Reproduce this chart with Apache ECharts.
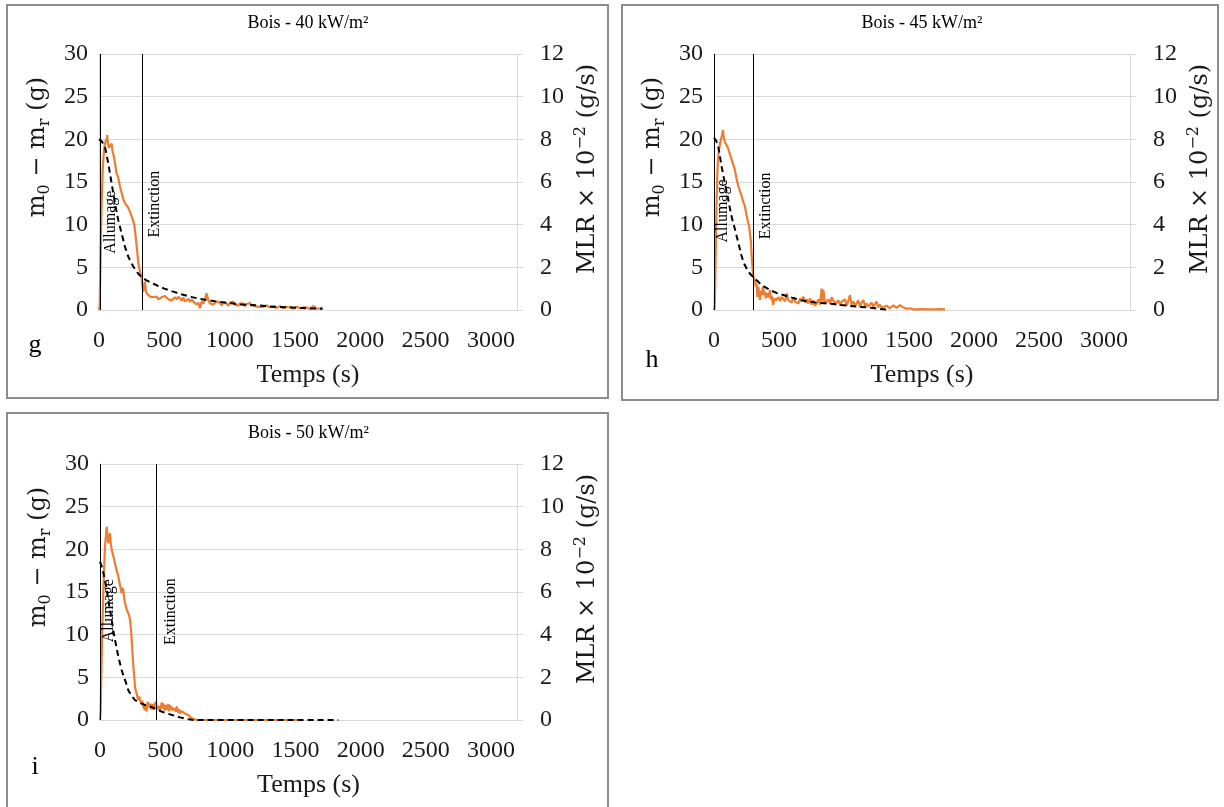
<!DOCTYPE html>
<html>
<head>
<meta charset="utf-8">
<script src="https://cdn.jsdelivr.net/npm/echarts@6/dist/echarts.min.js"></script>
<style>
  html, body { margin: 0; padding: 0; background: #fff; }
  #chart { width: 1224px; height: 807px; }
</style>
</head>
<body>
<div id="chart"></div>
<script>
// --- data: [temps (s), valeur] ---
// masse (axe gauche, g) -- courbe pointillée
const massG = [[0,20],[20,19.8],[46,19.1],[71,17.2],[97,14.8],[122,12.5],[148,10.5],[173,9.0],[199,7.4],[224,6.25],[245,5.6],[262,5.1],[288,4.5],[310,4.1],[330,3.8],[360,3.5],[400,3.2],[441,2.9],[500,2.5],[569,2.15],[630,1.85],[696,1.56],[760,1.35],[824,1.17],[890,1.02],[951,0.9],[1015,0.78],[1079,0.66],[1140,0.6],[1206,0.55],[1270,0.47],[1334,0.39],[1400,0.35],[1462,0.31],[1530,0.25],[1590,0.2],[1650,0.17],[1712,0.15]];
const massH = [[0,20.2],[5,20.1],[18,19.8],[31,19.3],[44,18.2],[56,17.0],[69,16.0],[82,15.0],[95,14.0],[108,13.1],[120,12.1],[133,11.1],[146,10.3],[159,9.6],[172,8.8],[185,8.0],[198,7.2],[210,6.45],[223,5.8],[236,5.3],[255,4.75],[274,4.3],[290,4.05],[305,3.9],[330,3.45],[354,3.1],[390,2.7],[431,2.34],[480,2.0],[533,1.76],[600,1.45],[662,1.17],[725,1.0],[790,0.86],[855,0.78],[918,0.7],[980,0.58],[1046,0.47],[1110,0.38],[1174,0.31],[1240,0.2],[1303,0.08],[1330,0.05]];
const massI = [[0,18.55],[13,18.0],[25,17.3],[38,16.4],[51,15.3],[64,14.06],[77,12.9],[90,11.7],[102,10.5],[115,9.4],[128,8.4],[141,7.4],[154,6.6],[166,5.86],[179,5.25],[192,4.7],[205,4.1],[217,3.5],[243,2.8],[269,2.34],[307,2.0],[345,1.76],[390,1.55],[430,1.3],[470,1.0],[512,0.78],[560,0.55],[614,0.31],[665,0.12],[716,0],[900,0],[1200,0],[1500,0],[1829,0]];

// MLR x 10^-2 (axe droit, g/s) -- courbe orange
const mlrG = [[0,0],[5,0.2],[12,2.5],[20,5.0],[30,6.8],[40,7.6],[50,7.9],[58,8.0],[63,8.2],[68,7.8],[75,7.6],[85,7.7],[97,7.8],[102,7.5],[110,7.3],[122,6.9],[135,6.4],[148,6.2],[160,5.8],[173,5.5],[186,5.2],[199,5.0],[212,4.9],[224,4.8],[237,4.6],[250,4.4],[260,4.2],[270,4.0],[280,3.5],[288,3.0],[295,2.6],[301,2.2],[310,1.9],[319,1.7],[326,1.5],[333,1.1],[339,0.86],[346,1.1],[352,1.33],[358,0.95],[365,0.78],[378,0.7],[390,0.63],[403,0.72],[416,0.6],[429,0.68],[441,0.63],[454,0.5],[467,0.47],[480,0.6],[493,0.55],[505,0.66],[518,0.63],[531,0.5],[544,0.58],[556,0.45],[569,0.47],[582,0.6],[595,0.5],[608,0.62],[620,0.55],[633,0.45],[646,0.58],[658,0.4],[671,0.47],[684,0.52],[697,0.38],[710,0.5],[722,0.39],[735,0.45],[748,0.25],[760,0.35],[773,0.08],[786,0.4],[799,0.3],[811,0.5],[824,0.78],[837,0.45],[850,0.31],[862,0.38],[875,0.25],[888,0.35],[901,0.3],[913,0.4],[926,0.31],[939,0.22],[952,0.35],[964,0.28],[977,0.3],[990,0.2],[1003,0.35],[1016,0.3],[1028,0.39],[1041,0.25],[1054,0.32],[1066,0.2],[1079,0.31],[1092,0.22],[1105,0.3],[1117,0.18],[1130,0.28],[1143,0.2],[1156,0.32],[1168,0.22],[1181,0.31],[1194,0.18],[1207,0.25],[1220,0.15],[1232,0.23],[1258,0.15],[1283,0.22],[1308,0.12],[1334,0.16],[1360,0.1],[1385,0.18],[1410,0.08],[1436,0.14],[1462,0.12],[1487,0.06],[1513,0.15],[1538,0.08],[1564,0.12],[1590,0.12],[1615,0.05],[1640,0.19],[1666,0.06],[1692,0.08],[1712,0.12]];
const mlrH = [[0,0],[5,0.1],[10,1.5],[18,4.45],[25,6.3],[31,7.1],[38,7.5],[44,7.7],[50,7.9],[56,8.05],[62,8.2],[69,8.44],[75,8.1],[82,7.9],[95,7.75],[108,7.6],[120,7.35],[133,7.1],[146,6.85],[159,6.6],[172,6.2],[185,5.86],[198,5.6],[210,5.4],[223,5.1],[236,4.9],[249,4.5],[262,4.1],[270,3.95],[277,3.9],[284,3.2],[290,2.5],[296,2.0],[302,1.56],[308,1.56],[315,1.4],[321,1.1],[328,1.25],[334,0.6],[341,1.1],[347,0.8],[354,0.47],[360,0.9],[367,0.7],[373,1.0],[379,1.1],[386,0.7],[392,0.85],[399,0.55],[405,0.63],[412,0.8],[418,0.6],[425,0.75],[431,0.94],[437,0.5],[444,0.65],[450,0.4],[456,0.23],[463,0.55],[469,0.6],[476,0.45],[482,0.47],[495,0.6],[508,0.42],[520,0.62],[533,0.55],[546,0.4],[559,0.78],[572,0.45],[585,0.5],[598,0.35],[610,0.6],[623,0.4],[636,0.47],[649,0.3],[661,0.55],[674,0.4],[687,0.63],[700,0.35],[713,0.5],[725,0.3],[738,0.55],[751,0.25],[764,0.45],[777,0.2],[790,0.31],[803,0.5],[815,0.25],[828,1.0],[835,0.4],[841,0.94],[854,0.3],[867,0.23],[880,0.5],[892,0.3],[905,0.6],[918,0.63],[931,0.3],[944,0.23],[957,0.45],[970,0.2],[982,0.4],[995,0.31],[1008,0.5],[1021,0.2],[1034,0.45],[1046,0.7],[1059,0.25],[1072,0.4],[1085,0.2],[1097,0.31],[1110,0.45],[1123,0.15],[1136,0.35],[1149,0.47],[1162,0.2],[1174,0.3],[1187,0.15],[1200,0.23],[1213,0.35],[1226,0.15],[1238,0.28],[1251,0.39],[1264,0.12],[1277,0.25],[1290,0.1],[1303,0.16],[1328,0.2],[1354,0.08],[1380,0.22],[1405,0.1],[1431,0.23],[1456,0.12],[1482,0.06],[1508,0.08],[1534,0.03],[1559,0.03],[1600,0.04],[1650,0.03],[1700,0.03],[1740,0.04],[1777,0.03]];
const mlrI = [[0,0],[5,0.5],[13,3.0],[25,6.0],[38,8.1],[45,8.6],[51,9.06],[57,8.7],[64,8.28],[70,8.6],[77,8.75],[83,8.3],[90,7.97],[102,7.7],[115,7.34],[128,7.0],[141,6.72],[154,6.3],[166,5.94],[172,6.2],[179,6.1],[186,5.7],[192,5.47],[205,5.2],[217,5.0],[224,4.9],[230,4.7],[237,4.3],[243,3.75],[250,3.1],[256,2.5],[263,2.0],[269,1.56],[275,1.35],[281,1.25],[288,1.05],[294,0.94],[301,1.1],[307,0.94],[314,0.8],[320,0.78],[326,0.9],[332,0.63],[339,0.55],[345,0.47],[352,0.7],[358,0.39],[365,0.85],[371,0.94],[378,0.6],[384,0.78],[390,0.5],[396,0.63],[403,0.75],[409,0.47],[416,0.7],[422,0.78],[429,0.86],[435,0.6],[441,0.5],[448,0.47],[454,0.65],[461,0.39],[467,0.6],[474,0.82],[480,0.55],[486,0.78],[493,0.45],[499,0.6],[505,0.7],[512,0.47],[518,0.55],[525,0.75],[531,0.4],[537,0.7],[544,0.5],[550,0.62],[556,0.45],[563,0.39],[569,0.55],[576,0.6],[582,0.4],[589,0.63],[595,0.45],[601,0.35],[608,0.5],[614,0.31],[627,0.42],[640,0.39],[652,0.3],[665,0.25],[678,0.23],[690,0.15],[703,0.08],[716,0.03],[740,0.01],[755,0],[900,0],[1100,0],[1300,0],[1535,0]];

// instants d'allumage / extinction (s)
const allumage = [7, 5, 3];
const extinction = [329, 302, 430];
const titles = ['Bois - 40 kW/m²', 'Bois - 45 kW/m²', 'Bois - 50 kW/m²'];
const letters = ['g', 'h', 'i'];
const xTicks = [0, 500, 1000, 1500, 2000, 2500, 3000];

// --- layout ---
const SERIF = 'Liberation Serif, Times New Roman, serif';
const MATH = 'DejaVu Serif, serif';
const INK = '#1a1a1a';
const GRID_C = '#d9d9d9';
const panels = [
  { grid: { left: 99, top: 54, width: 418, height: 256 }, box: [7, 5, 601, 393], letter: [35, 345], labY: [10.3, 12.4], labDx: [11, 13] },
  { grid: { left: 714, top: 54, width: 416, height: 256 }, box: [622, 5, 596, 395], letter: [652, 360], labY: [11.6, 12.2], labDx: [8, 13] },
  { grid: { left: 100, top: 464, width: 417, height: 256 }, box: [7, 413, 601, 400], letter: [35, 767], labY: [12.8, 12.7], labDx: [8, 15] }
];
const massData = [massG, massH, massI];
const mlrData = [mlrG, mlrH, mlrI];

const grids = [], xAxes = [], yAxes = [], series = [], graphics = [];

panels.forEach((p, i) => {
  grids.push(p.grid);
  const cx = p.grid.left + p.grid.width / 2;

  xAxes.push({
    gridIndex: i, type: 'value', min: 0, max: 3200, interval: 500,
    axisLine: { show: true, lineStyle: { color: GRID_C, width: 1 } },
    axisTick: { show: false }, splitLine: { show: false },
    axisLabel: { fontFamily: SERIF, fontSize: 24, color: INK, margin: 19,
      formatter: v => xTicks.includes(v) ? String(v) : '' },
    name: 'Temps (s)', nameLocation: 'middle', nameGap: 52,
    nameTextStyle: { fontFamily: SERIF, fontSize: 26, color: INK }
  });

  yAxes.push({
    gridIndex: i, type: 'value', position: 'left', min: 0, max: 30, interval: 5,
    axisLine: { show: true, lineStyle: { color: GRID_C } },
    axisTick: { show: false },
    splitLine: { show: true, lineStyle: { color: GRID_C, width: 1 } },
    axisLabel: { fontFamily: SERIF, fontSize: 24, color: INK, margin: 11 },
    name: '{a|m}{s|0}{a| − m}{s|r}{a| (g)}', nameLocation: 'middle', nameRotate: 90, nameGap: 46,
    nameTextStyle: { padding: [0, 0, 0, 70], rich: {
      a: { fontFamily: MATH, fontSize: 24, color: INK, lineHeight: 30 },
      s: { fontFamily: MATH, fontSize: 16, color: INK, lineHeight: 16, verticalAlign: 'bottom' }
    } }
  });
  yAxes.push({
    gridIndex: i, type: 'value', position: 'right', min: 0, max: 12, interval: 2,
    axisLine: { show: true, lineStyle: { color: GRID_C } },
    axisTick: { show: true, length: 6, lineStyle: { color: GRID_C } },
    splitLine: { show: false },
    axisLabel: { fontFamily: SERIF, fontSize: 24, color: INK, margin: 23 },
    name: '{a|MLR × 10}{p|−2}{a| (g/s)}', nameLocation: 'middle', nameRotate: 90, nameGap: 56,
    nameTextStyle: { padding: [0, 0, 0, 26], rich: {
      a: { fontFamily: MATH, fontSize: 24, color: INK, lineHeight: 30 },
      p: { fontFamily: MATH, fontSize: 16, color: INK, lineHeight: 16, verticalAlign: 'top' }
    } }
  });

  series.push({
    type: 'line', xAxisIndex: i, yAxisIndex: 2 * i + 1, data: mlrData[i],
    showSymbol: false, symbol: 'none', z: 2,
    lineStyle: { color: '#ED7D31', width: 2.2 }, itemStyle: { color: '#ED7D31' }
  });
  series.push({
    type: 'line', xAxisIndex: i, yAxisIndex: 2 * i, data: massData[i],
    showSymbol: false, symbol: 'none', z: 3,
    lineStyle: { color: '#000', width: 2, type: [6, 4] }, itemStyle: { color: '#000' },
    markLine: {
      silent: true, symbol: ['none', 'none'], label: { show: false },
      lineStyle: { color: '#000', width: 1, type: 'solid' },
      data: [{ xAxis: allumage[i] }, { xAxis: extinction[i] }]
    },
    markPoint: {
      silent: true, symbol: 'circle', symbolSize: 0,
      // offset is applied in the rotated frame: [along text, across text]
      label: { show: true, rotate: 90, fontFamily: SERIF, fontSize: 16, color: '#000', formatter: d => d.name },
      data: [
        { name: 'Allumage', coord: [allumage[i], p.labY[0]], label: { offset: [0, p.labDx[0]] } },
        { name: 'Extinction', coord: [extinction[i], p.labY[1]], label: { offset: [0, p.labDx[1]] } }
      ]
    }
  });

  const [bx, by, bw, bh] = p.box;
  graphics.push({ type: 'rect', shape: { x: bx, y: by, width: bw, height: bh }, style: { fill: 'none', stroke: '#8c8c8c', lineWidth: 2 }, silent: true });
  graphics.push({ type: 'text', x: cx, y: p.grid.top - 31, style: { text: titles[i], font: '18px ' + SERIF, fill: '#000', align: 'center', verticalAlign: 'middle' } });
  graphics.push({ type: 'text', x: p.letter[0], y: p.letter[1], style: { text: letters[i], font: '26px ' + SERIF, fill: '#000', align: 'center', verticalAlign: 'middle' } });
});

const chart = echarts.init(document.getElementById('chart'), null, { renderer: 'canvas' });
chart.setOption({
  animation: false,
  backgroundColor: '#fff',
  grid: grids, xAxis: xAxes, yAxis: yAxes, series, graphic: graphics
});
</script>
</body>
</html>
